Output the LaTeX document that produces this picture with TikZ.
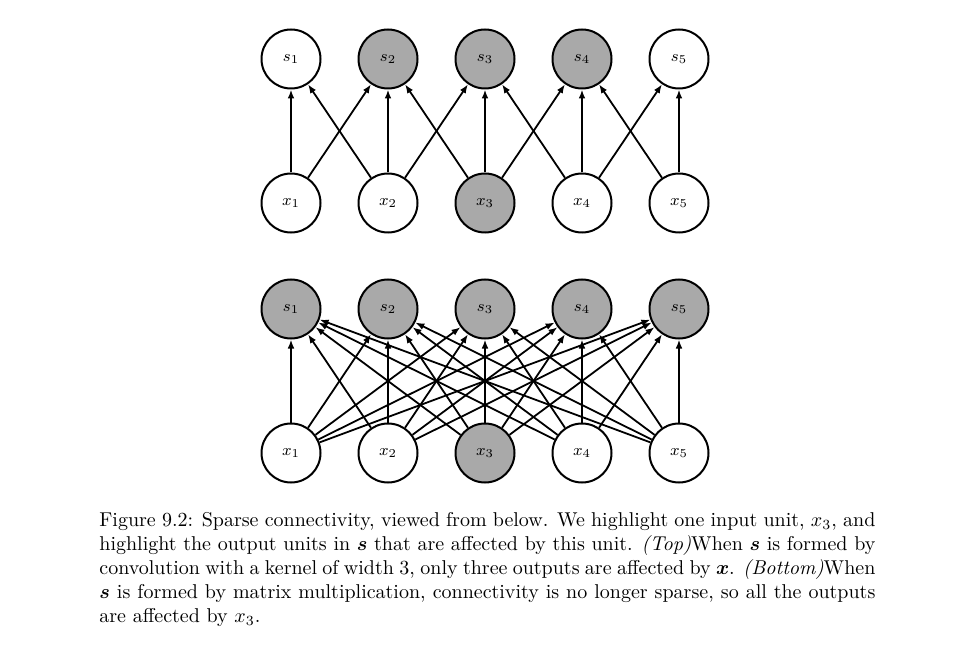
\documentclass[tikz,border=0pt]{standalone}
\usepackage{bm}
\usetikzlibrary{arrows.meta}
\definecolor{unitgray}{RGB}{169,169,169}
\begin{document}
\begin{tikzpicture}[x=1pt,y=1pt,
  unit/.style={circle,draw=black,line width=1pt,minimum size=29.5pt,inner sep=0pt,fill=white,font=\footnotesize},
  hot/.style={unit,fill=unitgray},
  conn/.style={line width=0.9pt,-{Latex[length=4.5pt,width=3.4pt]}}]
\useasboundingbox (0,0) rectangle (484.5,-331.5);
% top diagram
\node[unit] (ts1) at (145.5,-29.5) {$s_1$};
\node[hot]  (ts2) at (194,-29.5) {$s_2$};
\node[hot]  (ts3) at (242.5,-29.5) {$s_3$};
\node[hot]  (ts4) at (291,-29.5) {$s_4$};
\node[unit] (ts5) at (339.5,-29.5) {$s_5$};
\node[unit] (tx1) at (145.5,-101.5) {$x_1$};
\node[unit] (tx2) at (194,-101.5) {$x_2$};
\node[hot]  (tx3) at (242.5,-101.5) {$x_3$};
\node[unit] (tx4) at (291,-101.5) {$x_4$};
\node[unit] (tx5) at (339.5,-101.5) {$x_5$};
\foreach \i in {1,...,5}{
  \draw[conn] (tx\i) -- (ts\i);
}
\foreach \i/\j in {1/2,2/1,2/3,3/2,3/4,4/3,4/5,5/4}{
  \draw[conn] (tx\i) -- (ts\j);
}
% bottom diagram
\node[hot] (bs1) at (145.5,-154.5) {$s_1$};
\node[hot] (bs2) at (194,-154.5) {$s_2$};
\node[hot] (bs3) at (242.5,-154.5) {$s_3$};
\node[hot] (bs4) at (291,-154.5) {$s_4$};
\node[hot] (bs5) at (339.5,-154.5) {$s_5$};
\node[unit] (bx1) at (145.5,-226.5) {$x_1$};
\node[unit] (bx2) at (194,-226.5) {$x_2$};
\node[hot]  (bx3) at (242.5,-226.5) {$x_3$};
\node[unit] (bx4) at (291,-226.5) {$x_4$};
\node[unit] (bx5) at (339.5,-226.5) {$x_5$};
\foreach \i in {1,...,5}{
  \foreach \j in {1,...,5}{
    \draw[conn] (bx\i) -- (bs\j);
  }
}
% caption
\node[anchor=north west,inner sep=0pt,text width=388pt,align=justify,font=\normalsize] (cap) at (49.5,-256)
{Figure 9.2: Sparse connectivity, viewed from below. We highlight one input unit, $x_3$, and\linebreak
highlight the output units in $\bm{s}$ that are affected by this unit. \textit{(Top)}When $\bm{s}$ is formed by\linebreak
convolution with a kernel of width 3, only three outputs are affected by $\bm{x}$. \textit{(Bottom)}When\linebreak
$\bm{s}$ is formed by matrix multiplication, connectivity is no longer sparse, so all the outputs\linebreak
are affected by $x_3$.};
\end{tikzpicture}
\end{document}
